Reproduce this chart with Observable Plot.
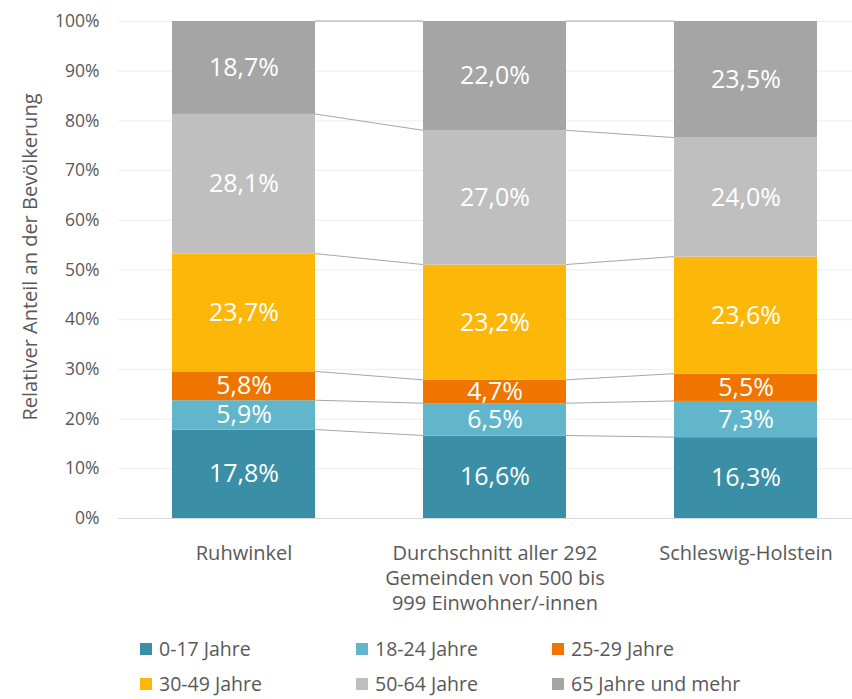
<!DOCTYPE html>
<html>
<head>
<meta charset="utf-8">
<script src="https://cdn.jsdelivr.net/npm/d3@7"></script>
<script src="https://cdn.jsdelivr.net/npm/@observablehq/plot@0.6"></script>
<style>
  body { margin: 0; background: white; font-family: "Open Sans", "Noto Sans", sans-serif; }
  #chart { width: 852px; }
  .legend { display: grid; grid-template-columns: 216px 196px auto; margin-left: 140px; margin-top: 6px; color: #595959; font-size: 19.5px; line-height: 1.2; }
  .legend .item { height: 35px; display: flex; align-items: center; white-space: nowrap; }
  .legend .sw { width: 12px; height: 12px; margin-right: 7px; display: inline-block; }
</style>
</head>
<body>
<div id="chart"></div>
<script>
const categories = ["Ruhwinkel", "Durchschnitt aller 292 Gemeinden von 500 bis 999 Einwohner/-innen", "Schleswig-Holstein"];
const categoryLabels = ["Ruhwinkel", "Durchschnitt aller 292\nGemeinden von 500 bis\n999 Einwohner/-innen", "Schleswig-Holstein"];
const ages = ["0-17 Jahre", "18-24 Jahre", "25-29 Jahre", "30-49 Jahre", "50-64 Jahre", "65 Jahre und mehr"];
const colors = ["#3a8fa7", "#62b6cb", "#ef7500", "#fdb708", "#bfbfbf", "#a5a5a5"];
const valuesRuhwinkel = [17.8, 5.9, 5.8, 23.7, 28.1, 18.7];
const valuesDurchschnitt = [16.6, 6.5, 4.7, 23.2, 27.0, 22.0];
const valuesSH = [16.3, 7.3, 5.5, 23.6, 24.0, 23.5];
const yTicks = [0, 0.1, 0.2, 0.3, 0.4, 0.5, 0.6, 0.7, 0.8, 0.9, 1.0];
const yLabel = "Relativer Anteil an der Bevölkerung";

const seriesValues = [valuesRuhwinkel, valuesDurchschnitt, valuesSH];
const data = [];
categories.forEach((c, i) => ages.forEach((a, j) => data.push({cat: c, age: a, value: seriesValues[i][j]})));

// cumulative normalized boundaries for connector lines
const cums = seriesValues.map(vals => {
  const total = d3.sum(vals);
  let s = 0;
  return vals.map(v => (s += v) / total);
});

const fmt = v => v.toFixed(1).replace(".", ",") + "%";
const labelMap = new Map(categories.map((c, i) => [c, categoryLabels[i]]));

const connectors = (index, scales) => {
  const x = scales.x, y = scales.y;
  const bw = x.bandwidth();
  const g = d3.create("svg:g").attr("stroke", "#a6a6a6").attr("stroke-width", 1).attr("fill", "none");
  for (let i = 0; i < categories.length - 1; i++) {
    for (let k = 0; k < ages.length; k++) {
      g.append("line")
        .attr("x1", x(categories[i]) + bw)
        .attr("y1", y(cums[i][k]))
        .attr("x2", x(categories[i + 1]))
        .attr("y2", y(cums[i + 1][k]));
    }
  }
  return g.node();
};

const plot = Plot.plot({
  width: 852,
  height: 625,
  marginLeft: 118,
  marginRight: 0,
  marginTop: 21,
  marginBottom: 107,
  style: {fontFamily: "'Open Sans', 'Noto Sans', sans-serif", color: "#595959", background: "white"},
  x: {domain: categories, paddingInner: 0.43, paddingOuter: 0.177, align: 0.61, label: null},
  y: {domain: [0, 1], label: null},
  color: {domain: ages, range: colors},
  marks: [
    Plot.gridY(yTicks, {stroke: "#ededed", strokeOpacity: 1}),
    Plot.ruleY([0], {stroke: "#d9d9d9", strokeWidth: 1.2}),
    connectors,
    Plot.barY(data, Plot.stackY({offset: "normalize", order: ages, x: "cat", y: "value", z: "age", fill: "age"})),
    Plot.text(data, Plot.stackY({offset: "normalize", order: ages, x: "cat", y: "value", z: "age", text: d => fmt(d.value), fill: "white", fontSize: 25})),
    Plot.axisY({ticks: yTicks, tickFormat: d => Math.round(d * 100) + "%", tickSize: 0, tickPadding: 19, fontSize: 17.5, label: null}),
    Plot.axisX({tickSize: 0, tickPadding: 24, fontSize: 20, lineHeight: 1.25, tickFormat: d => labelMap.get(d), label: null}),
    Plot.text([yLabel], {frameAnchor: "left", textAnchor: "middle", rotate: -90, dx: -88, dy: -13, fontSize: 20, fill: "#595959"})
  ]
});
document.getElementById("chart").appendChild(plot);

const legend = d3.select("body").append("div").attr("class", "legend");
ages.forEach((a, i) => {
  const item = legend.append("div").attr("class", "item");
  item.append("span").attr("class", "sw").style("background", colors[i]);
  item.append("span").text(a);
});
</script>
</body>
</html>
